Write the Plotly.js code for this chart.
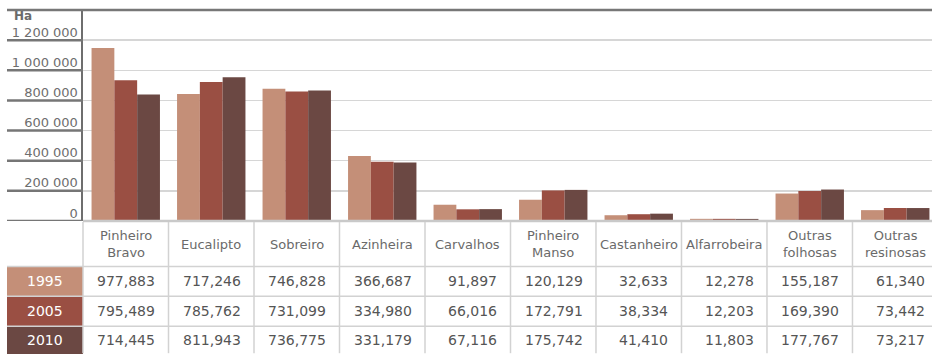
<!DOCTYPE html>
<html>
<head>
<meta charset="utf-8">
<script src="https://cdn.plot.ly/plotly-3.0.1.min.js"></script>
<style>
  html, body { margin: 0; padding: 0; background: #ffffff; }
  #chart { width: 932px; height: 354px; }
</style>
</head>
<body>
<div id="chart"></div>
<script>
// ---------------- DATA ----------------
const categories = ['Pinheiro<br>Bravo', 'Eucalipto', 'Sobreiro', 'Azinheira', 'Carvalhos',
                    'Pinheiro<br>Manso', 'Castanheiro', 'Alfarrobeira', 'Outras<br>folhosas', 'Outras<br>resinosas'];
const years = ['1995', '2005', '2010'];
const v1995 = [977883, 717246, 746828, 366687, 91897, 120129, 32633, 12278, 155187, 61340];
const v2005 = [795489, 785762, 731099, 334980, 66016, 172791, 38334, 12203, 169390, 73442];
const v2010 = [714445, 811943, 736775, 331179, 67116, 175742, 41410, 11803, 177767, 73217];
const tickLabels = ['0', '200 000', '400 000', '600 000', '800 000', '1 000 000', '1 200 000'];
// data value at which the "200 000" gridline sits in the original picture (axis is labelled inconsistently)
const AXIS_STEP = 170200;
const unitLabel = 'Ha';

// ---------------- STYLE / GEOMETRY ----------------
const colors = ['#C48F78', '#9A4F43', '#6B4843'];
const FONT = 'DejaVu Sans, Verdana, sans-serif';
const W = 932, H = 354;
const ML = 83, MT = 10, PB = 221.5;           // plot area left, top, bottom (px)
const PW = W - ML, PH = PB - MT;
const X_RANGE = [-0.5, 9.43];
const Y_MAX = 1192000;
const catW = PW / (X_RANGE[1] - X_RANGE[0]);
const LEFT_EDGE = 7;
const rowsY = [223, 267, 297, 327, 357];       // header top, row tops..., bottom

function xp(px) { return (px - ML) / PW; }
function yp(py) { return (PB - py) / PH; }
function colLeft(i) { return ML + (i - 0.5 - X_RANGE[0]) * catW; }

const series = [v1995, v2005, v2010];
const traces = series.map((vals, k) => ({
  type: 'bar',
  name: years[k],
  x: categories,
  y: vals,
  marker: { color: colors[k], line: { width: 0 } },
  hoverinfo: 'skip'
}));

const tickvals = tickLabels.map((_, i) => i * AXIS_STEP);

const shapes = [];
const annotations = [];

// left extensions of gridlines (dark)
tickvals.forEach(v => {
  shapes.push({ type: 'line', xref: 'paper', yref: 'y', x0: xp(LEFT_EDGE), x1: 0, y0: v, y1: v,
    line: { color: '#767676', width: 2.5 } });
});
// bottom line in plot (light)
shapes.push({ type: 'line', xref: 'paper', yref: 'paper', x0: 0, x1: 1, y0: 0, y1: 0,
  line: { color: '#c9c9c9', width: 2.5 } });
// top border
shapes.push({ type: 'line', xref: 'paper', yref: 'paper', x0: xp(LEFT_EDGE), x1: 1, y0: 1, y1: 1,
  line: { color: '#777777', width: 2.5 } });

// row label fills
for (let r = 0; r < 3; r++) {
  shapes.push({ type: 'rect', xref: 'paper', yref: 'paper',
    x0: xp(LEFT_EDGE), x1: 0, y0: yp(rowsY[r + 1]), y1: yp(rowsY[r + 2]),
    fillcolor: colors[r], line: { width: 0 } });
}
// table vertical lines
for (let i = 0; i < categories.length; i++) {
  shapes.push({ type: 'line', xref: 'paper', yref: 'paper', x0: xp(colLeft(i)), x1: xp(colLeft(i)),
    y0: yp(PB + 1), y1: yp(H), line: { color: '#d2d2d2', width: 1.5 } });
}
// table horizontal lines
for (let r = 1; r < 4; r++) {
  shapes.push({ type: 'line', xref: 'paper', yref: 'paper', x0: xp(LEFT_EDGE), x1: 1,
    y0: yp(rowsY[r]), y1: yp(rowsY[r]), line: { color: '#d2d2d2', width: 1.5 } });
}

// unit label
annotations.push({ xref: 'paper', yref: 'paper', x: xp(12), y: yp(16.5), xanchor: 'left', yanchor: 'middle',
  text: '<b>' + unitLabel + '</b>', showarrow: false, font: { family: FONT, size: 12, color: '#6a6a6a' } });

// header labels
categories.forEach((c, i) => {
  annotations.push({ xref: 'paper', yref: 'paper', x: xp(colLeft(i) + catW / 2), y: yp((rowsY[0] + rowsY[1]) / 2),
    xanchor: 'center', yanchor: 'middle', text: c, showarrow: false, align: 'center',
    font: { family: FONT, size: 13, color: '#6a6a6a' } });
});
// row labels and values
series.forEach((vals, r) => {
  const yc = r === 2 ? yp(341) : yp((rowsY[r + 1] + rowsY[r + 2]) / 2);
  annotations.push({ xref: 'paper', yref: 'paper', x: xp((LEFT_EDGE + ML) / 2), y: yc,
    xanchor: 'center', yanchor: 'middle', text: years[r], showarrow: false,
    font: { family: FONT, size: 14, color: '#ffffff' } });
  vals.forEach((v, i) => {
    annotations.push({ xref: 'paper', yref: 'paper', x: xp(colLeft(i + 1) - 11), y: yc,
      xanchor: 'right', yanchor: 'middle', text: v.toLocaleString('en-US'), showarrow: false,
      font: { family: FONT, size: 14, color: '#555555' } });
  });
});

const layout = {
  width: W, height: H,
  margin: { l: ML, r: 0, t: MT, b: H - PB, pad: 0 },
  paper_bgcolor: '#ffffff', plot_bgcolor: '#ffffff',
  showlegend: false,
  barmode: 'group', bargap: 0.2, bargroupgap: 0,
  font: { family: FONT },
  xaxis: { range: X_RANGE, showticklabels: false, showgrid: false, zeroline: false, showline: false, ticks: '' },
  yaxis: {
    range: [0, Y_MAX], tickmode: 'array', tickvals: tickvals, ticktext: tickLabels,
    showgrid: true, gridcolor: '#d6d6d6', gridwidth: 1.5, zeroline: false,
    showline: true, linecolor: '#6e6e6e', linewidth: 2.5, ticks: '',
    ticklabelshift: -8, ticklabelstandoff: 0,
    tickfont: { family: FONT, size: 13, color: '#6e6e6e' }
  },
  shapes: shapes,
  annotations: annotations
};

Plotly.newPlot('chart', traces, layout, { staticPlot: true, displayModeBar: false });
</script>
</body>
</html>
